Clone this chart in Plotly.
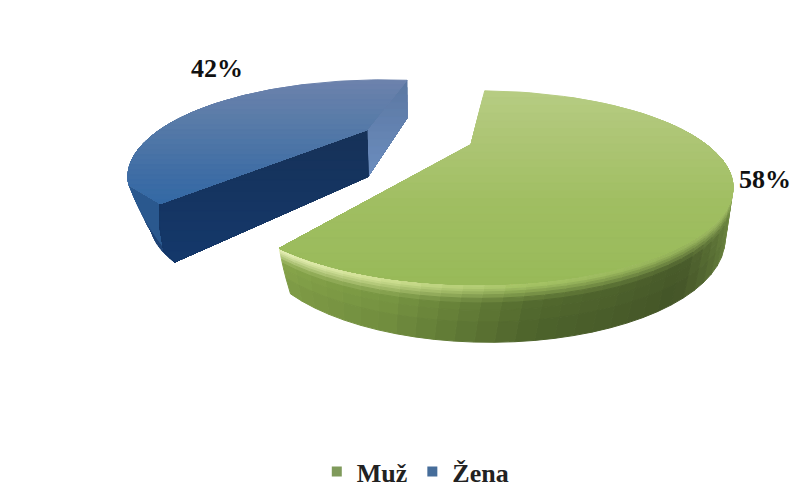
import numpy as np
import plotly.graph_objects as go

categories = ["Muž", "Žena"]
values = [58, 42]

W, H = 793, 495
SERIF = "Liberation Serif"
DEG_PER_UNIT = 3.6


def mix(stops, v):
    xs = [s[0] for s in stops]
    return tuple(float(np.interp(v, xs, [s[1][i] for s in stops])) for i in range(3))


def css(c):
    return "rgb(%d,%d,%d)" % tuple(int(round(x)) for x in c)


def clip_below(pts, y0):
    """Part of a polygon lying below the line y = y0 in pixel space."""
    out = []
    for i in range(len(pts)):
        a, b = pts[i], pts[(i + 1) % len(pts)]
        ina, inb = a[1] >= y0, b[1] >= y0
        if ina:
            out.append(a)
        if ina != inb:
            t = (y0 - a[1]) / (b[1] - a[1])
            out.append((a[0] + t * (b[0] - a[0]), y0))
    return out


fig = go.Figure()


def poly(pts, colour):
    if len(pts) < 3:
        return
    xs = [p[0] for p in pts] + [pts[0][0]]
    ys = [p[1] for p in pts] + [pts[0][1]]
    fig.add_trace(go.Scatter(x=xs, y=ys, mode="lines", fill="toself", fillcolor=colour,
                             line=dict(color=colour, width=1), hoverinfo="skip",
                             showlegend=False))


DEPTHS = np.array([0, .03, .06, .09, .13, .18, .24, .32, .45, .65, 1.0])


def slice3d(start, sweep, ext, top, bottom, side_fn, visible, n=48):
    def ring(th, e):
        r = np.radians(th)
        return (e[0] + e[2] * np.sin(r), e[1] - e[3] * np.cos(r))

    def at(frac, t):
        e = [top[k] + (bottom[k] - top[k]) * t for k in range(4)]
        return ring(start + sweep * frac * (1 + ext * t), e)

    fr = np.linspace(0, 1, n + 1)
    for i in range(n):
        th_mid = (start + sweep * (fr[i] + fr[i + 1]) / 2) % 360
        if not visible(th_mid):
            continue
        for j in range(len(DEPTHS) - 1):
            t0, t1 = DEPTHS[j], DEPTHS[j + 1]
            c = side_fn(th_mid, (t0 + t1) / 2)
            poly([at(fr[i], t0), at(fr[i + 1], t0), at(fr[i + 1], t1), at(fr[i], t1)], css(c))
    return [ring(start + sweep * f, top) for f in np.linspace(0, 1, 90)], at


def top_face(outline, stops, y0, y1, bands=26):
    for y in np.linspace(y0, y1, bands):
        poly(clip_below(outline, y), css(mix(stops, y)))


# ---------- Žena (blue) ----------
b_top = (383, 177, 255, 97)
b_bot = (383, 225, 232, 86)
b_apex, b_apex_low = (367, 130), (368, 177)
b_corner = (160, 204)
b_bulge = [(164, 252), (160, 228)]
b_start = 365.4
b_sweep = -values[1] * DEG_PER_UNIT * 0.664


def blue_side(th, t):
    base = mix([(250, (34, 74, 125)), (262, (44, 90, 148)), (285, (52, 102, 162)), (300, (60, 110, 170))], th)
    return mix([(0, (58, 108, 168)), (.2, base), (1, (26, 60, 108))], t)


blue_outline, b_at = slice3d(b_start, b_sweep, 0.209, b_top, b_bot, blue_side, lambda th: 200 < th < 320)
b_q_end = b_at(1, 1)
b_p_start = b_at(0, 0)
b_q_start = (b_p_start[0], b_p_start[1] + 38)

# wedge closing the wall against the front cut
poly([b_at(1, t) for t in DEPTHS] + [b_corner], css((42, 88, 142)))
# right cut face
face = [b_apex, b_p_start, b_q_start, b_apex_low]
top_face(face, [(80, (92, 120, 162)), (177, (108, 142, 192))], 80, 177, bands=14)
# front cut face
front = [b_corner, b_apex, b_apex_low, b_q_end] + b_bulge
top_face(front, [(130, (22, 50, 88)), (262, (20, 56, 108))], 130, 262, bands=14)
# top of the slice
blue_poly = blue_outline + [b_corner, b_apex]
top_face(blue_poly, [(80, (108, 130, 172)), (120, (88, 123, 168)), (170, (64, 110, 165)), (205, (50, 104, 165))], 80, 205)

# ---------- Muž (green) ----------
g_top = (478, 188, 255, 97)
g_bot = (490, 240, 235, 103)
g_apex = (471, 145)
g_start = 1.5
g_sweep = values[0] * DEG_PER_UNIT * 1.10


def green_side(th, t):
    base = mix([(75, (150, 178, 92)), (100, (105, 130, 62)), (125, (72, 90, 42)), (165, (82, 105, 46)),
                (200, (120, 150, 66)), (236, (138, 168, 76))], th)
    hi = mix([(75, (165, 190, 105)), (130, (150, 180, 90)), (170, (165, 195, 100)), (205, (210, 226, 150)),
              (236, (232, 240, 185))], th)
    return mix([(0, hi), (.07, hi), (.32, base), (1, tuple(x * .92 for x in base))], t)


green_outline, g_at = slice3d(g_start, g_sweep, 0.03, g_top, g_bot, green_side, lambda th: 70 < th < 240)
green_poly = green_outline + [g_apex]
top_face(green_poly, [(90, (182, 204, 130)), (130, (174, 198, 118)), (200, (160, 190, 98)), (285, (152, 186, 88))], 90, 285)

# ---------- labels ----------
label_xy = [(765, 182), (217, 71)]
for (lx, ly), v in zip(label_xy, values):
    fig.add_trace(go.Scatter(x=[lx], y=[ly], mode="text", text=[f"{v}%"], showlegend=False,
                             textfont=dict(family=SERIF, size=26, color="#111111", weight="bold"),
                             hoverinfo="skip", cliponaxis=False))

# ---------- legend ----------
legend_colours = ["#7f9a5b", "#466d9a"]
for name, col in zip(categories, legend_colours):
    fig.add_trace(go.Scatter(x=[None], y=[None], mode="markers", name=name,
                             marker=dict(symbol="square", size=10, color=col)))

fig.update_layout(
    width=W, height=H, margin=dict(l=0, r=0, t=0, b=0),
    paper_bgcolor="white", plot_bgcolor="white",
    xaxis=dict(range=[0, W], visible=False, fixedrange=True),
    yaxis=dict(range=[H, 0], visible=False, fixedrange=True),
    legend=dict(orientation="h", x=0.5237, xanchor="center", y=0.045, yanchor="middle",
                font=dict(family=SERIF, size=26, color="#222222", weight="bold"), itemwidth=30,
                bgcolor="rgba(0,0,0,0)"),
    font=dict(family=SERIF),
)
fig.write_html("out.html", config={"displayModeBar": False},
               post_script="document.body.style.margin='0';document.documentElement.style.overflow='hidden';")
